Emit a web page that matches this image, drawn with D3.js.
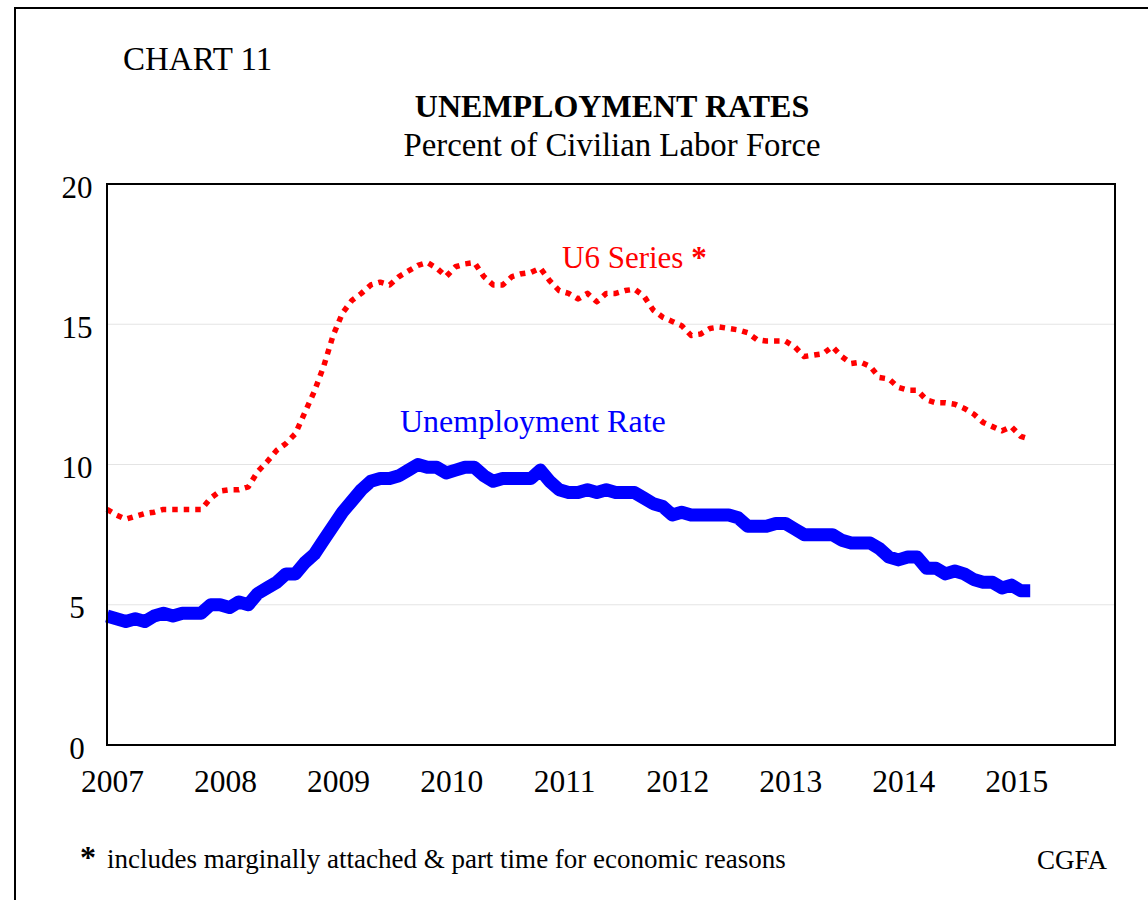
<!DOCTYPE html>
<html>
<head>
<meta charset="utf-8">
<script src="https://cdn.jsdelivr.net/npm/d3@7"></script>
<style>
  html, body { margin: 0; padding: 0; background: #fff; }
  svg { display: block; font-family: "Liberation Serif", "Times New Roman", serif; }
</style>
</head>
<body>
<svg id="chart" width="1148" height="900"></svg>
<script>
// Monthly series, January 2007 through March 2015
const startYear = 2007;
const unemploymentRate = [
  4.6, 4.5, 4.4, 4.5, 4.4, 4.6, 4.7, 4.6, 4.7, 4.7, 4.7, 5.0,
  5.0, 4.9, 5.1, 5.0, 5.4, 5.6, 5.8, 6.1, 6.1, 6.5, 6.8, 7.3,
  7.8, 8.3, 8.7, 9.1, 9.4, 9.5, 9.5, 9.6, 9.8, 10.0, 9.9, 9.9,
  9.7, 9.8, 9.9, 9.9, 9.6, 9.4, 9.5, 9.5, 9.5, 9.5, 9.8, 9.4,
  9.1, 9.0, 9.0, 9.1, 9.0, 9.1, 9.0, 9.0, 9.0, 8.8, 8.6, 8.5,
  8.2, 8.3, 8.2, 8.2, 8.2, 8.2, 8.2, 8.1, 7.8, 7.8, 7.8, 7.9,
  7.9, 7.7, 7.5, 7.5, 7.5, 7.5, 7.3, 7.2, 7.2, 7.2, 7.0, 6.7,
  6.6, 6.7, 6.7, 6.3, 6.3, 6.1, 6.2, 6.1, 5.9, 5.8, 5.8, 5.6,
  5.7, 5.5, 5.5
];
const u6Series = [
  8.4, 8.2, 8.05, 8.15, 8.25, 8.3, 8.4, 8.4, 8.4, 8.4, 8.4, 8.8,
  9.05, 9.1, 9.1, 9.2, 9.75, 10.1, 10.5, 10.75, 11.1, 11.85, 12.6, 13.5,
  14.6, 15.4, 15.85, 16.1, 16.4, 16.5, 16.4, 16.7, 16.9, 17.1, 17.2, 17.0,
  16.7, 17.05, 17.15, 17.2, 16.7, 16.4, 16.4, 16.7, 16.8, 16.85, 17.0, 16.55,
  16.2, 16.1, 15.9, 16.1, 15.8, 16.1, 16.1, 16.2, 16.25, 16.0, 15.5, 15.25,
  15.1, 14.95, 14.6, 14.65, 14.85, 14.9, 14.85, 14.8, 14.7, 14.45, 14.4, 14.4,
  14.4, 14.2, 13.85, 13.9, 13.95, 14.2, 13.85, 13.6, 13.65, 13.5, 13.1, 13.05,
  12.75, 12.65, 12.65, 12.3, 12.2, 12.2, 12.15, 12.0, 11.8, 11.5, 11.35, 11.2,
  11.35, 11.0, 10.9
];
const yearLabels = ["2007", "2008", "2009", "2010", "2011", "2012", "2013", "2014", "2015"];
const yTicks = [0, 5, 10, 15, 20];

const svg = d3.select("#chart");
const plot = { left: 107, top: 184, right: 1115, bottom: 745 };

// Outer frame (runs past the right and bottom edges of the page)
svg.append("rect")
  .attr("x", 15).attr("y", 8).attr("width", 1160).attr("height", 920)
  .attr("fill", "none").attr("stroke", "#000").attr("stroke-width", 2);

// Titles
svg.append("text").attr("x", 123).attr("y", 70)
  .attr("font-size", 33).text("CHART 11");
svg.append("text").attr("x", 612).attr("y", 117).attr("text-anchor", "middle")
  .attr("font-size", 32).attr("font-weight", "bold").text("UNEMPLOYMENT RATES");
svg.append("text").attr("x", 612).attr("y", 156).attr("text-anchor", "middle")
  .attr("font-size", 32.8).text("Percent of Civilian Labor Force");

// Scales: x is months since January 2007
const x = d3.scaleLinear().domain([0, 107]).range([plot.left, plot.right]);
const y = d3.scaleLinear().domain([0, 20]).range([plot.bottom, plot.top]);

// Horizontal gridlines
svg.append("g").selectAll("line")
  .data(yTicks.filter(d => d > 0 && d < 20))
  .join("line")
  .attr("x1", plot.left).attr("x2", plot.right)
  .attr("y1", d => y(d)).attr("y2", d => y(d))
  .attr("stroke", "#e4e4e4").attr("stroke-width", 1.2);

// Y axis labels
const yAxis = d3.axisLeft(y).tickValues(yTicks).tickSize(0).tickPadding(0);
const yg = svg.append("g").attr("transform", `translate(${plot.left},0)`).call(yAxis);
yg.select(".domain").remove();
yg.selectAll("text")
  .attr("x", 77 - plot.left).attr("dy", "0.36em").attr("y", 2)
  .attr("text-anchor", "middle")
  .attr("font-family", "Liberation Serif, Times New Roman, serif")
  .attr("font-size", 31).attr("fill", "#000");

// X axis year labels
const xAxis = d3.axisBottom(x)
  .tickValues(yearLabels.map((_, i) => i * 12))
  .tickFormat((d, i) => yearLabels[i])
  .tickSize(0).tickPadding(0);
const xg = svg.append("g").attr("transform", `translate(0,${plot.bottom})`).call(xAxis);
xg.select(".domain").remove();
xg.selectAll("text")
  .attr("y", 47).attr("dy", 0).attr("dx", 5)
  .attr("font-family", "Liberation Serif, Times New Roman, serif")
  .attr("font-size", 31.5).attr("fill", "#000");

// Series lines
const line = d3.line().x((d, i) => x(i)).y(d => y(d));

svg.append("path").datum(u6Series)
  .attr("d", line)
  .attr("fill", "none").attr("stroke", "#ff0000")
  .attr("stroke-width", 5.5).attr("stroke-dasharray", "5.5 6")
  .attr("stroke-linejoin", "round");

svg.append("path").datum(unemploymentRate)
  .attr("d", line)
  .attr("fill", "none").attr("stroke", "#0000ff")
  .attr("stroke-width", 13).attr("stroke-linejoin", "round")
  .attr("stroke-linecap", "butt");

// Plot frame
svg.append("rect")
  .attr("x", plot.left).attr("y", plot.top)
  .attr("width", plot.right - plot.left).attr("height", plot.bottom - plot.top)
  .attr("fill", "none").attr("stroke", "#000").attr("stroke-width", 2);

// Series labels
const u6Label = svg.append("text").attr("x", 562).attr("y", 268)
  .attr("font-size", 31).attr("fill", "#ff0000");
u6Label.append("tspan").text("U6 Series ");
u6Label.append("tspan").attr("font-weight", "bold").text("*");

svg.append("text").attr("x", 400).attr("y", 432)
  .attr("font-size", 32).attr("fill", "#0000ff").text("Unemployment Rate");

// Footnote and source
const note = svg.append("text").attr("x", 80).attr("y", 868).attr("font-size", 27);
note.append("tspan").attr("font-weight", "bold").attr("font-size", 32).text("*");
note.append("tspan").attr("x", 107).text("includes marginally attached & part time for economic reasons");

svg.append("text").attr("x", 1107).attr("y", 869).attr("text-anchor", "end")
  .attr("font-size", 27).text("CGFA");
</script>
</body>
</html>
